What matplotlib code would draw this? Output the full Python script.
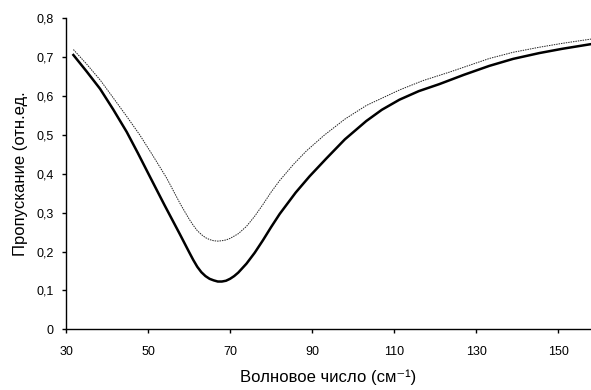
import matplotlib
matplotlib.use('Agg')
import matplotlib.pyplot as plt
from matplotlib.ticker import FuncFormatter

plt.rcParams['font.family'] = ['Liberation Sans', 'DejaVu Sans']

wn_solid = [31.8, 35, 38.3, 41.5, 44.8, 47.5, 50.4, 54, 57.8, 60, 61, 62, 63, 64, 65,
            66, 67, 68, 69, 70, 71, 72, 74, 76, 78, 80, 82.1, 86, 89.4, 93.5, 98, 103.2,
            107, 111.3, 116, 121, 127, 133.2, 139, 145.4, 151, 158]
tr_solid = [0.706, 0.664, 0.619, 0.566, 0.508, 0.454, 0.394, 0.32, 0.244, 0.199, 0.179,
            0.161, 0.147, 0.137, 0.130, 0.126, 0.123, 0.123, 0.125, 0.130, 0.137, 0.146,
            0.169, 0.197, 0.229, 0.263, 0.297, 0.352, 0.394, 0.440, 0.489, 0.536, 0.565,
            0.591, 0.613, 0.631, 0.655, 0.678, 0.696, 0.711, 0.722, 0.734]

wn_dot = [31.8, 35, 38.3, 41.5, 44.8, 48, 51, 54.5, 57.8, 59, 60, 61, 62, 63, 64, 65,
          66, 67, 68, 69, 70, 72, 74, 76, 78, 80, 82.1, 85.5, 88.6, 93, 98, 103.2, 111.3,
          117, 123.5, 133.2, 139, 145.4, 151, 158]
tr_dot = [0.72, 0.683, 0.642, 0.596, 0.548, 0.50, 0.45, 0.39, 0.324, 0.302, 0.284,
          0.268, 0.254, 0.244, 0.236, 0.231, 0.228, 0.227, 0.228, 0.230, 0.234, 0.246,
          0.265, 0.291, 0.321, 0.353, 0.383, 0.425, 0.459, 0.500, 0.541, 0.576, 0.616,
          0.640, 0.662, 0.697, 0.713, 0.726, 0.736, 0.747]

xticks = [30, 50, 70, 90, 110, 130, 150]
yticks = [0, 0.1, 0.2, 0.3, 0.4, 0.5, 0.6, 0.7, 0.8]

fig = plt.figure(figsize=(5.91, 3.90), dpi=100)
ax = fig.add_axes([0.1117, 0.1556, 0.8883, 0.797])

ax.plot(wn_dot, tr_dot, color='#222222', lw=0.7, linestyle=(0, (1.5, 1)))
ax.plot(wn_solid, tr_solid, color='black', lw=1.8)

ax.set_xlim(30, 158)
ax.set_ylim(0, 0.8)
ax.set_xticks(xticks)
ax.set_yticks(yticks)

def comma(v, pos):
    if abs(v) < 1e-9:
        return '0'
    s = f'{v:g}'
    return s.replace('.', ',')

ax.yaxis.set_major_formatter(FuncFormatter(comma))
ax.xaxis.set_major_formatter(FuncFormatter(comma))

ax.spines['top'].set_visible(False)
ax.spines['right'].set_visible(False)
ax.spines['left'].set_linewidth(1.0)
ax.spines['bottom'].set_linewidth(1.0)
ax.tick_params(direction='out', length=3, width=1.0, labelsize=9)
ax.tick_params(axis='x', pad=9)
ax.tick_params(axis='y', pad=6)

ax.set_xlabel('Волновое число (см⁻¹)', fontsize=12, labelpad=8)
ax.set_ylabel('Пропускание (отн.ед.', fontsize=12, labelpad=6)

fig.savefig('out.png', dpi=100)
